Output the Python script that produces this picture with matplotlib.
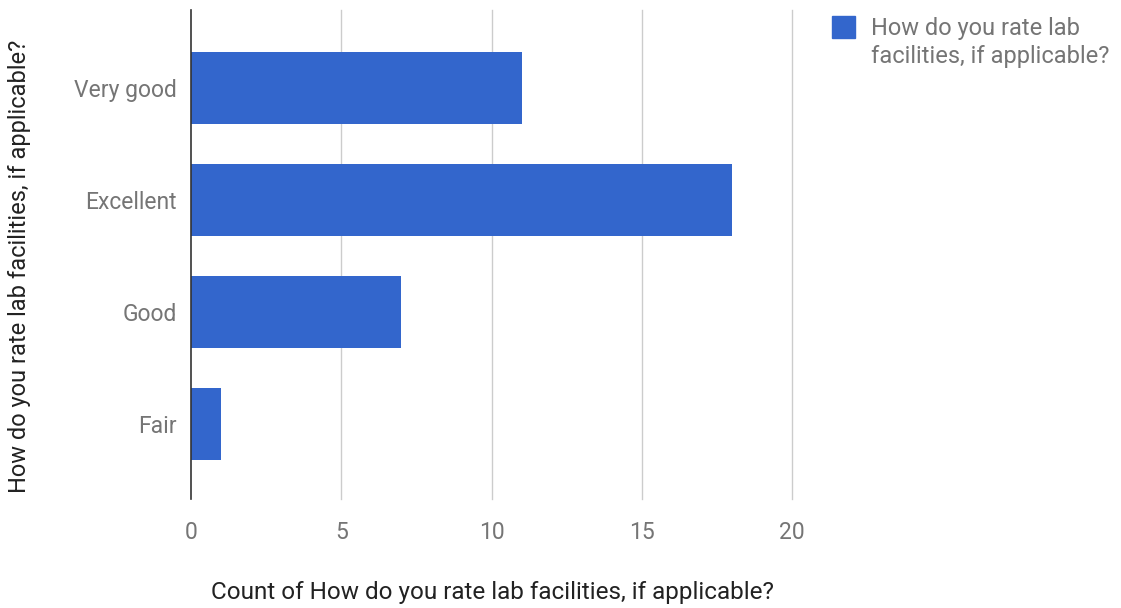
import matplotlib.pyplot as plt
from matplotlib.patches import Rectangle

categories = ["Fair", "Good", "Excellent", "Very good"]
counts = [1, 7, 18, 11]
x_ticks = [0, 5, 10, 15, 20]
series_name = "How do you rate lab facilities, if applicable?"

W, H = 1121, 608
bar_color = "#3366cc"

plt.rcParams["font.family"] = ["Roboto", "DejaVu Sans"]

fig = plt.figure(figsize=(W / 100, H / 100), dpi=100)
ax = fig.add_axes([191 / W, 1 - 499 / H, (792 - 191) / W, (499 - 10) / H])

ypos = list(range(len(categories)))
ax.barh(ypos, counts, height=0.643, color=bar_color, zorder=3)

ax.set_xlim(0, 20)
ax.set_ylim(-0.67, 3.696)
ax.set_xticks(x_ticks)
ax.set_yticks(ypos)
ax.set_yticklabels(categories)
ax.tick_params(axis="both", length=0, labelsize=16.5, colors="#757575")
ax.tick_params(axis="x", pad=16)
ax.tick_params(axis="y", pad=10)

for xv in x_ticks[1:]:
    ax.axvline(xv, color="#cccccc", linewidth=1, zorder=0, clip_on=False)
for s in ["top", "right", "bottom"]:
    ax.spines[s].set_visible(False)
ax.spines["left"].set_color("#333333")
ax.spines["left"].set_linewidth(1.2)
ax.spines["left"].set_zorder(4)

fig.text(492 / W, 1 - 592 / H, "Count of " + series_name, ha="center", va="center",
         fontsize=17.5, color="#222222")
fig.text(20 / W, 1 - 266 / H, series_name, ha="center", va="center",
         rotation=90, fontsize=17, color="#222222")

# legend
fig.patches.append(Rectangle((832 / W, 1 - 38 / H), 23 / W, 22 / H,
                             transform=fig.transFigure, color=bar_color))
fig.text(871 / W, 1 - 28 / H, "How do you rate lab", ha="left", va="center",
         fontsize=17, color="#757575")
fig.text(871 / W, 1 - 57 / H, "facilities, if applicable?", ha="left", va="center",
         fontsize=17, color="#757575")

plt.savefig("out.png", dpi=100)
